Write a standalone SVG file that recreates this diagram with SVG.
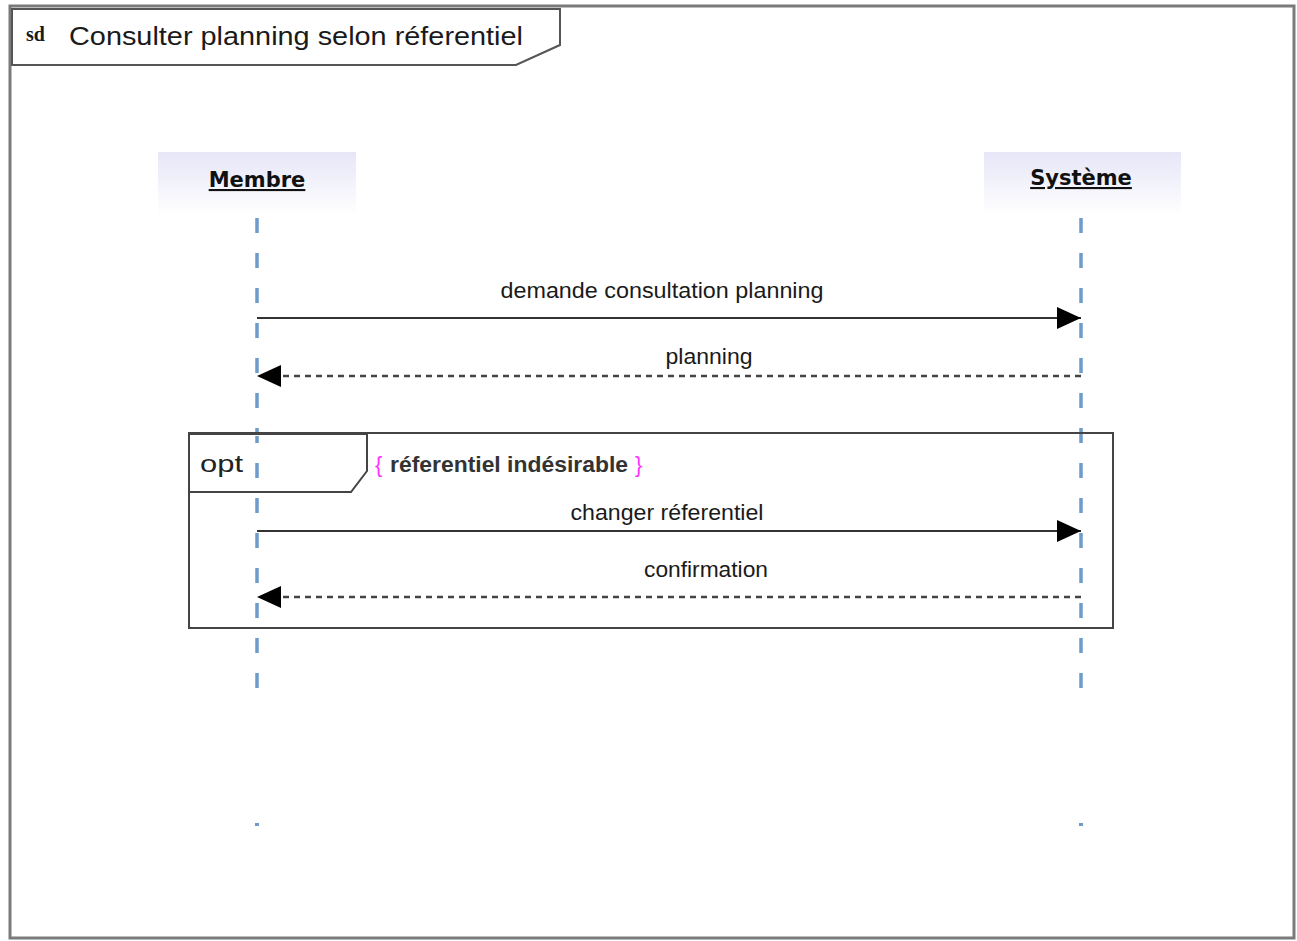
<svg xmlns="http://www.w3.org/2000/svg" width="1297" height="941" viewBox="0 0 1297 941">
<style>
text{font-family:"Liberation Sans",Arial,sans-serif;fill:#1a1a1a}
.lbl{font-size:22px;text-anchor:middle}
.head{font-family:"DejaVu Sans",Verdana,sans-serif;font-size:21px;font-weight:bold;text-anchor:middle;text-decoration:underline;fill:#111}
.life{stroke:#6f9bcb;stroke-width:3.5;stroke-dasharray:15 20;fill:none}
.msg{stroke:#333;stroke-width:2;fill:none}
.ret{stroke:#444;stroke-width:2.5;stroke-dasharray:6 5;fill:none}
</style>
<defs>
<linearGradient id="hg" x1="0" y1="0" x2="0" y2="1">
<stop offset="0" stop-color="#e6e6f8"/>
<stop offset="1" stop-color="#ffffff"/>
</linearGradient>
<marker id="ah" viewBox="0 0 24 22" refX="24" refY="11" markerWidth="24" markerHeight="22" markerUnits="userSpaceOnUse" orient="auto">
<path d="M0,0 L24,11 L0,22 Z" fill="#000"/>
</marker>
</defs>
<rect width="1297" height="941" fill="#fff"/>
<g id="frame">
<rect x="10" y="6" width="1284" height="932" fill="none" stroke="#7a7a7a" stroke-width="3"/>
<path d="M12,9 L560,9 L560,45 L516,65 L12,65 Z" fill="#fff" stroke="#555" stroke-width="2"/>
<text x="26" y="41" style="font-family:'Liberation Serif',serif;font-weight:bold;font-size:20px">sd</text>
<text x="69" y="45" style="font-size:25px" textLength="454" lengthAdjust="spacingAndGlyphs">Consulter planning selon réferentiel</text>
</g>
<g id="membre">
<rect x="158" y="152" width="198" height="63" fill="url(#hg)"/>
<text class="head" x="257" y="187">Membre</text>
</g>
<g id="systeme">
<rect x="984" y="152" width="197" height="63" fill="url(#hg)"/>
<text class="head" x="1081" y="185">Système</text>
</g>
<g id="lifelines">
<line class="life" x1="257" y1="218" x2="257" y2="692"/>
<line class="life" x1="1081" y1="218" x2="1081" y2="692"/>
<rect x="255" y="823" width="4" height="3" fill="#6f9bcb"/>
<rect x="1079" y="823" width="4" height="3" fill="#6f9bcb"/>
</g>
<g id="opt">
<rect x="189" y="433" width="924" height="195" fill="none" stroke="#444" stroke-width="2"/>
<path d="M190,434 L367,434 L367,471 L351,492 L190,492" fill="#fff" stroke="#444" stroke-width="2"/>
<line class="life" x1="257" y1="436" x2="257" y2="492" style="stroke-dashoffset:8"/>
<text x="200" y="472" style="font-size:24px;fill:#222" textLength="43" lengthAdjust="spacingAndGlyphs">opt</text>
<text x="375" y="472" style="font-size:22px;fill:#ff33ff">{</text>
<text x="390" y="472" style="font-size:22px;font-weight:bold;fill:#333" textLength="238" lengthAdjust="spacingAndGlyphs">réferentiel indésirable</text>
<text x="635" y="472" style="font-size:22px;fill:#ff33ff">}</text>
</g>
<g id="connectors">
<line class="msg" x1="257" y1="318" x2="1081" y2="318" marker-end="url(#ah)"/>
<text class="lbl" x="662" y="298" textLength="323" lengthAdjust="spacingAndGlyphs">demande consultation planning</text>
<line class="ret" x1="1081" y1="376" x2="257" y2="376" marker-end="url(#ah)"/>
<text class="lbl" x="709" y="364" textLength="87" lengthAdjust="spacingAndGlyphs">planning</text>
<line class="msg" x1="257" y1="531" x2="1081" y2="531" marker-end="url(#ah)"/>
<text class="lbl" x="667" y="520" textLength="193" lengthAdjust="spacingAndGlyphs">changer réferentiel</text>
<line class="ret" x1="1081" y1="597" x2="257" y2="597" marker-end="url(#ah)"/>
<text class="lbl" x="706" y="577" textLength="124" lengthAdjust="spacingAndGlyphs">confirmation</text>
</g>
</svg>
